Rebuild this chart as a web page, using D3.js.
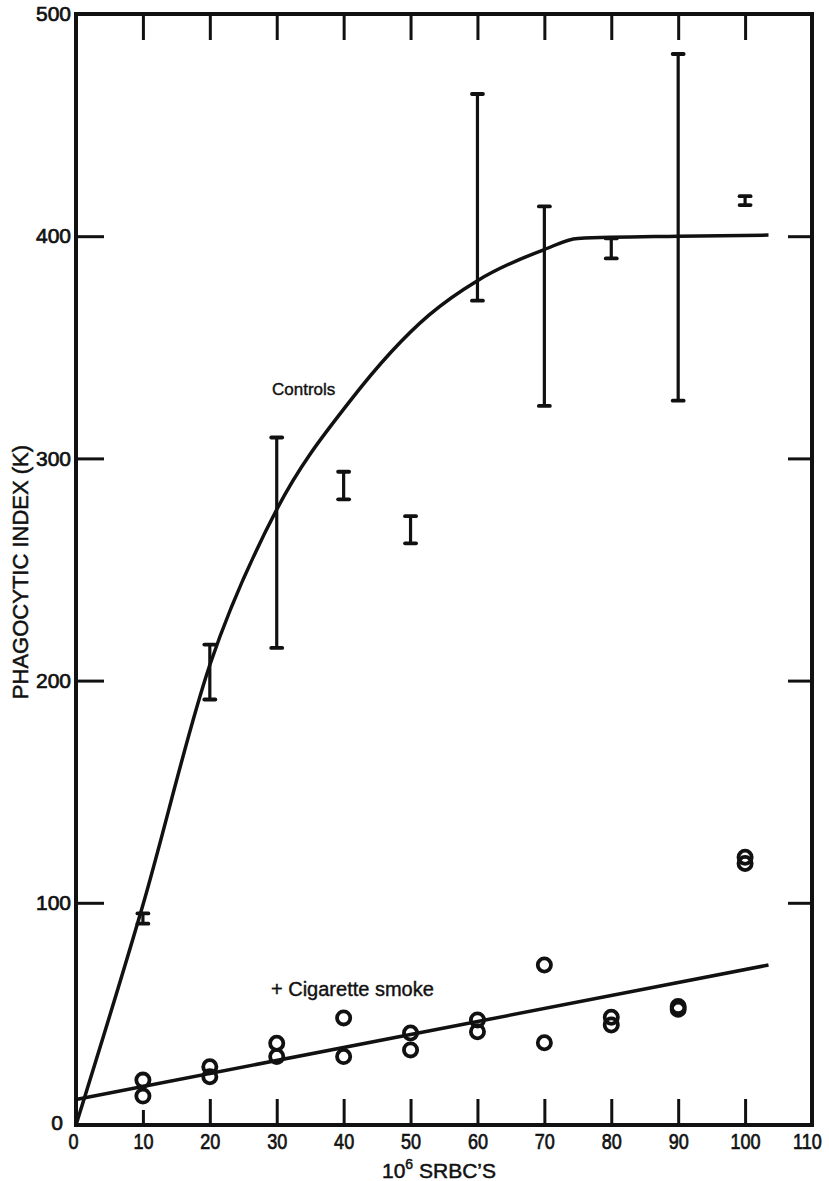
<!DOCTYPE html>
<html>
<head>
<meta charset="utf-8">
<script src="https://cdn.jsdelivr.net/npm/d3@7"></script>
<style>
    body { margin: 0; background: #fff; }
    text { font-family: "Liberation Sans", Arial, Helvetica, sans-serif; fill: #111; }
</style>
</head>
<body>
<svg id="canvas" width="829" height="1181"></svg>
<script>
/** Tick values */
const xTicks = [0, 10, 20, 30, 40, 50, 60, 70, 80, 90, 100, 110];
const yTicks = [0, 100, 200, 300, 400, 500];

/** Doses (10^6 SRBC's) */
const doses = [10, 20, 30, 40, 50, 60, 70, 80, 90, 100];

/** Controls: error bar ends */
const controlLow = [90.6, 191.5, 214.7, 281.6, 261.8, 371, 323.6, 390, 326, 414];
const controlHigh = [95.2, 216.2, 309.4, 294, 274, 464, 413.4, 399, 482, 418];

/** Controls: fitted curve */
const controlCurveX = [0, 10, 20, 30, 41, 52.75, 60, 70, 75, 90, 103.5];
const controlCurveY = [0, 99, 207, 277, 326, 364.5, 380, 394, 399, 400, 400.5];

/** + Cigarette smoke: two animals per dose */
const smokeLow = [13.0, 21.7, 30.8, 30.8, 33.8, 42.0, 37.0, 45.0, 52.1, 117.7];
const smokeHigh = [20.2, 26.2, 36.8, 48.2, 41.4, 47.3, 72.0, 48.5, 53.3, 120.5];

/** + Cigarette smoke: fitted line */
const smokeLineX = [0, 103.5];
const smokeLineY = [11.5, 72];

let canvas = d3.select('#canvas');

/** Scales */
const x = d3.scaleLinear().domain([0, 110]).range([76, 812]);
const y = d3.scaleLinear().domain([0, 500]).range([1125, 14]);

const ink = '#111';

/** Axes (ticks point inward) */
const drawAxes = () => {
    let bottom = canvas.append('g')
        .attr('class', 'x-bottom')
        .attr('transform', `translate(0,${y(0)})`)
        .call(d3.axisBottom(x).tickValues(xTicks).tickSizeInner(-26).tickSizeOuter(0).tickPadding(8));
    bottom.selectAll('.tick line')
        .attr('y2', (d) => d === 10 ? -15 : (d === 0 || d === 110 ? 0 : -26));

    canvas.append('g')
        .attr('transform', `translate(0,${y(500)})`)
        .call(d3.axisTop(x).tickValues(xTicks.slice(1, 11)).tickSizeInner(-26).tickSizeOuter(0).tickFormat(''));

    let left = canvas.append('g')
        .attr('transform', `translate(${x(0)},0)`)
        .call(d3.axisLeft(y).tickValues(yTicks).tickSizeInner(-28).tickSizeOuter(0).tickPadding(5));
    left.selectAll('.tick line')
        .attr('x2', (d) => (d === 0 || d === 500) ? 0 : 28);
    left.selectAll('.tick')
        .filter((d) => d === 0)
        .select('text')
        .attr('x', -13)
        .attr('dy', '0.2em');

    canvas.append('g')
        .attr('transform', `translate(${x(110)},0)`)
        .call(d3.axisRight(y).tickValues(yTicks.slice(1, 5)).tickSizeInner(-24).tickSizeOuter(0).tickFormat(''));

    canvas.selectAll('.domain').remove();
    canvas.selectAll('.tick line')
        .attr('stroke', ink)
        .attr('stroke-width', 3);
    canvas.selectAll('.tick text')
        .attr('font-size', 21)
        .attr('fill', ink)
        .attr('stroke', ink)
        .attr('stroke-width', 0.7);

    /** Bottom labels are narrow and tall in the original */
    bottom.selectAll('.tick text')
        .attr('font-size', 22)
        .attr('transform', (d) => `translate(${d === 110 ? -5 : (d === 0 ? -3 : 0)},0) scale(0.82,1)`);

    /** Frame */
    canvas.append('rect')
        .attr('x', x(0))
        .attr('y', y(500))
        .attr('width', x(110) - x(0))
        .attr('height', y(0) - y(500))
        .attr('fill', 'none')
        .attr('stroke', ink)
        .attr('stroke-width', 4);
};

/** Curves, error bars and circles */
const drawData = () => {
    let controlLine = d3.line()
        .x((d, i) => x(controlCurveX[i]))
        .y((d) => y(d))
        .curve(d3.curveMonotoneX);

    canvas.append('path')
        .attr('d', controlLine(controlCurveY))
        .attr('fill', 'none')
        .attr('stroke', ink)
        .attr('stroke-width', 3.5);

    let smokeLine = d3.line()
        .x((d, i) => x(smokeLineX[i]))
        .y((d) => y(d));

    canvas.append('path')
        .attr('d', smokeLine(smokeLineY))
        .attr('fill', 'none')
        .attr('stroke', ink)
        .attr('stroke-width', 3.5);

    /** Error bars */
    let bars = canvas.selectAll('.bar')
        .data(doses)
        .enter()
        .append('g')
        .attr('class', 'bar');

    bars.append('line')
        .attr('x1', (d) => x(d))
        .attr('x2', (d) => x(d))
        .attr('y1', (d, i) => y(controlLow[i]))
        .attr('y2', (d, i) => y(controlHigh[i]))
        .attr('stroke', ink)
        .attr('stroke-width', 3.2);

    [controlLow, controlHigh].forEach((ends) => {
        bars.append('line')
            .attr('x1', (d) => x(d) - 5.5)
            .attr('x2', (d) => x(d) + 5.5)
            .attr('y1', (d, i) => y(ends[i]))
            .attr('y2', (d, i) => y(ends[i]))
            .attr('stroke', ink)
            .attr('stroke-width', 3.8)
            .attr('stroke-linecap', 'round');
    });

    /** Smoke circles */
    [smokeLow, smokeHigh].forEach((values) => {
        canvas.append('g')
            .selectAll('circle')
            .data(doses)
            .enter()
            .append('circle')
            .attr('cx', (d) => x(d))
            .attr('cy', (d, i) => y(values[i]))
            .attr('r', 6.6)
            .attr('fill', 'none')
            .attr('stroke', ink)
            .attr('stroke-width', 3.8);
    });
};

/** Labels */
const drawLabels = () => {
    canvas.append('text')
        .attr('x', 272)
        .attr('y', 395)
        .attr('font-size', 17)
        .attr('stroke', ink)
        .attr('stroke-width', 0.4)
        .text('Controls');

    canvas.append('text')
        .attr('x', 271)
        .attr('y', 996)
        .attr('font-size', 20)
        .attr('stroke', ink)
        .attr('stroke-width', 0.4)
        .text('+ Cigarette smoke');

    canvas.append('text')
        .attr('transform', 'translate(28,572) rotate(-90)')
        .attr('text-anchor', 'middle')
        .attr('font-size', 22)
        .attr('stroke', ink)
        .attr('stroke-width', 0.5)
        .text('PHAGOCYTIC INDEX (K)');

    let xTitle = canvas.append('text')
        .attr('x', 439)
        .attr('y', 1178)
        .attr('text-anchor', 'middle')
        .attr('font-size', 21)
        .attr('stroke', ink)
        .attr('stroke-width', 0.5);
    xTitle.append('tspan').text('10');
    xTitle.append('tspan').attr('font-size', 14).attr('dy', -9).text('6');
    xTitle.append('tspan').attr('dy', 9).text(' SRBC\u2019S');
};

drawAxes();
drawData();
drawLabels();
</script>
</body>
</html>
